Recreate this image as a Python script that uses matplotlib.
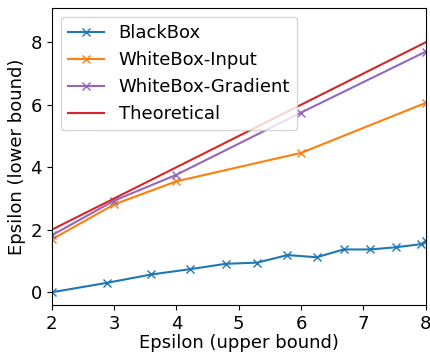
import matplotlib
matplotlib.use('Agg')
import matplotlib.pyplot as plt

# data
blackbox_x = [2.0, 2.88, 3.60, 4.22, 4.79, 5.30, 5.78, 6.25, 6.68, 7.11, 7.52, 7.92, 8.0]
blackbox_y = [0.0, 0.30, 0.57, 0.74, 0.91, 0.95, 1.19, 1.12, 1.37, 1.37, 1.44, 1.54, 1.63]

input_x = [2, 3, 4, 6, 8]
input_y = [1.69, 2.81, 3.55, 4.46, 6.06]

gradient_x = [2, 3, 4, 6, 8]
gradient_y = [1.82, 2.93, 3.76, 5.75, 7.70]

theory_x = [2, 8]
theory_y = [2, 8]

fig = plt.figure(figsize=(4.31, 3.56), dpi=100)
ax = fig.add_axes([0.12, 0.143, 0.868, 0.835])

ax.plot(blackbox_x, blackbox_y, marker='x', color='tab:blue', label='BlackBox')
ax.plot(input_x, input_y, marker='x', color='tab:orange', label='WhiteBox-Input')
ax.plot(gradient_x, gradient_y, marker='x', color='tab:purple', label='WhiteBox-Gradient')
ax.plot(theory_x, theory_y, color='tab:red', label='Theoretical')

ax.set_xlim(2, 8)
ax.set_ylim(-0.41, 9.1)
ax.set_xticks([2, 3, 4, 5, 6, 7, 8])
ax.set_yticks([0, 2, 4, 6, 8])
ax.tick_params(labelsize=13)
ax.set_xlabel('Epsilon (upper bound)', fontsize=13, labelpad=1)
ax.set_ylabel('Epsilon (lower bound)', fontsize=13, labelpad=3)
ax.legend(loc='upper left', fontsize=13)

fig.savefig('out.png', dpi=100)
